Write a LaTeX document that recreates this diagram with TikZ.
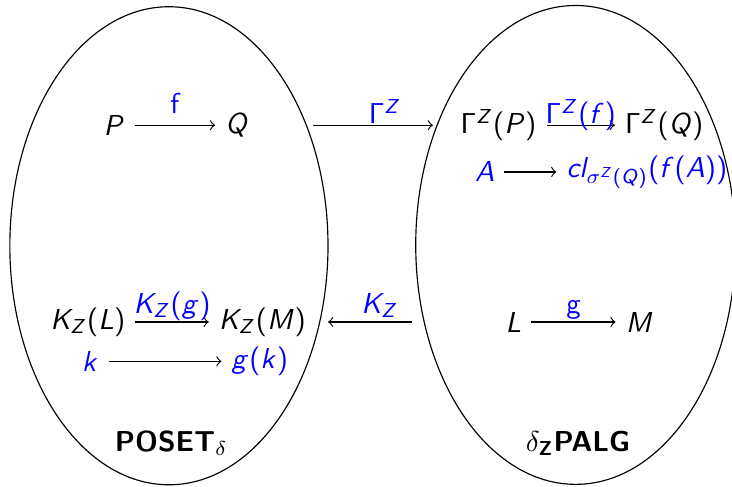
\documentclass[tikz,border=0pt]{standalone}
\usepackage{amsmath}
\renewcommand{\familydefault}{\sfdefault}
% sans letters in math, lowercase greek stays as it is
\DeclareSymbolFont{sfops}{OT1}{cmss}{m}{n}
\DeclareSymbolFont{sflets}{OT1}{cmss}{m}{sl}
\DeclareMathSymbol{\Gamma}{\mathalpha}{sfops}{"00}
\DeclareMathSymbol{(}{\mathopen}{sfops}{"28}
\DeclareMathSymbol{)}{\mathclose}{sfops}{"29}
\DeclareMathSymbol{A}{\mathalpha}{sflets}{`A}
\DeclareMathSymbol{K}{\mathalpha}{sflets}{`K}
\DeclareMathSymbol{L}{\mathalpha}{sflets}{`L}
\DeclareMathSymbol{M}{\mathalpha}{sflets}{`M}
\DeclareMathSymbol{P}{\mathalpha}{sflets}{`P}
\DeclareMathSymbol{Q}{\mathalpha}{sflets}{`Q}
\DeclareMathSymbol{Z}{\mathalpha}{sflets}{`Z}
\DeclareMathSymbol{c}{\mathalpha}{sflets}{`c}
\DeclareMathSymbol{f}{\mathalpha}{sflets}{`f}
\DeclareMathSymbol{g}{\mathalpha}{sflets}{`g}
\DeclareMathSymbol{k}{\mathalpha}{sflets}{`k}
\DeclareMathSymbol{l}{\mathalpha}{sflets}{`l}
\usepackage{xcolor}
\usepackage{tikz}
\usetikzlibrary{shapes.geometric,positioning}
\tikzset{
	catg/.style  = {ellipse,draw,inner sep=0pt,minimum width=3.88cm,
		minimum height=5.83cm},
	obj/.style   = {text=black},
	elt/.style   = {text=blue},
	lbl/.style   = {midway,anchor=base,text=blue,yshift=3pt},
	flbl/.style  = {midway,anchor=base,text=blue,yshift=0.6pt},
	catname/.style = {anchor=base},
	arr/.style   = {->},
}

\begin{document}
\begin{tikzpicture}
	\useasboundingbox (0,0) rectangle (8.927,5.927);
	\node (poset) [catg] at (2.06,2.93) {};
	\node (palg) [catg,minimum width=3.90cm,minimum height=5.84cm] at (7.02,2.94) {};
	
	%% left category
	\node (P) [obj] at (1.39,4.40) {$P$};
	\node (Q) [obj] at (2.89,4.40) {$Q$};
	\node (KL) [obj] at (1.07,2.00) {$K_Z(L)$};
	\node (KM) [obj] at (3.20,2.00) {$K_Z(M)$};
	\node (k) [elt] at (1.10,1.52) {$k$};
	\node (gk) [elt] at (3.17,1.52) {$g(k)$};
	\node [catname] at (2.09,0.42) {\textbf{POSET}$_\delta$};
	
	%% right category
	\node (GP) [obj] at (6.08,4.40) {$\Gamma^Z(P)$};
	\node (GQ) [obj] at (8.10,4.40) {$\Gamma^Z(Q)$};
	\node (A) [elt] at (5.91,3.83) {$A$};
	\node (clA) [elt] at (7.89,3.83) {$cl_{\sigma^Z(Q)}(f(A))$};
	\node (L) [obj] at (6.26,2.00) {$L$};
	\node (M) [obj] at (7.80,2.00) {$M$};
	\node [catname] at (7.05,0.42) {$\delta_{\textbf{Z}}$\textbf{PALG}};
	
	\draw[arr] (P) -- (Q) node[lbl,yshift=1pt] {f};
	\draw[arr] (KL) -- (KM) node[lbl] {$K_Z(g)$};
	\draw[arr] (k) -- (gk);
	\draw[arr] (GP) -- (GQ) node[flbl] {$\Gamma^Z(f)$};
	\draw[arr] (A) -- (clA);
	\draw[arr] (L) -- (M) node[lbl] {g};
	
	%% functors between the two
	\coordinate (g1) at (3.82,4.40);
	\coordinate (g2) at (5.28,4.40);
	\coordinate (k1) at (5.02,2.00);
	\coordinate (k2) at (4.00,2.00);
	\draw[arr] (g1) -- (g2) node[flbl,pos=0.6] {$\Gamma^Z$};
	\draw[arr] (k1) -- (k2) node[lbl,pos=0.38] {$K_Z$};
\end{tikzpicture}
\end{document}
